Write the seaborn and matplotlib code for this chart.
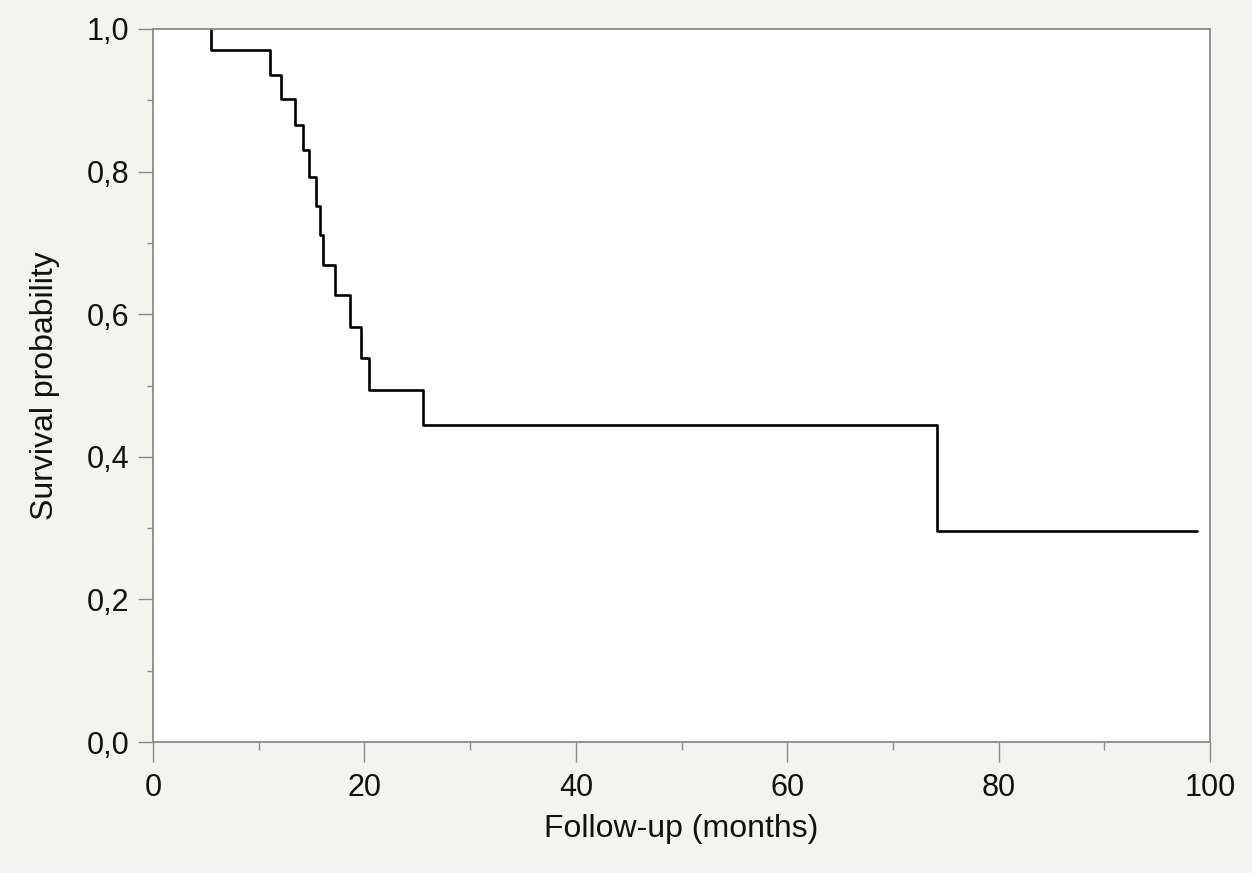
import matplotlib
matplotlib.use("Agg")
import matplotlib.pyplot as plt
import seaborn as sns
import pandas as pd
from matplotlib.ticker import MultipleLocator, FuncFormatter

# Kaplan-Meier step data
# event times (months) and survival probability just after each event
months = [5.5, 11.1, 12.1, 13.4, 14.2, 14.8, 15.4, 15.8, 16.1, 17.2, 18.6, 19.7, 20.4, 25.5, 74.2]
survival = [0.970, 0.936, 0.902, 0.866, 0.830, 0.793, 0.752, 0.711, 0.669, 0.627, 0.582, 0.538, 0.494, 0.445, 0.296]
start_value = 1.0
last_follow_up = 98.8

x_ticks = [0, 20, 40, 60, 80, 100]
y_ticks = [0.0, 0.2, 0.4, 0.6, 0.8, 1.0]

sns.set_theme(style="white")
plt.rcParams['font.family'] = ['Liberation Sans', 'DejaVu Sans']

fig = plt.figure(figsize=(12.52, 8.73), dpi=100, facecolor="#f3f4ef")
ax = fig.add_axes([0.1222, 0.150, 0.8443, 0.8168])
ax.set_facecolor("white")

# steps-post: at each event time the curve drops to the new value
post = pd.DataFrame({
    "months": [months[0]] + months + [last_follow_up],
    "surv": [start_value] + survival + [survival[-1]],
})
sns.lineplot(data=post, x="months", y="surv", drawstyle="steps-post",
             estimator=None, sort=False, color="black", linewidth=1.9, ax=ax)

ax.set_xlim(0, 100)
ax.set_ylim(0, 1.0)
ax.set_xticks(x_ticks)
ax.set_yticks(y_ticks)
ax.xaxis.set_minor_locator(MultipleLocator(10))
ax.yaxis.set_minor_locator(MultipleLocator(0.1))
ax.yaxis.set_major_formatter(FuncFormatter(lambda v, p: f"{v:.1f}".replace(".", ",")))
ax.xaxis.set_major_formatter(FuncFormatter(lambda v, p: f"{int(v)}"))

for s in ax.spines.values():
    s.set_color("#8a8a8a")
    s.set_linewidth(1.3)
common = dict(direction="out", width=1.0, color="#8a8a8a", labelcolor="#111111")
ax.tick_params(axis="x", which="major", length=14.4, pad=8, labelsize=22, bottom=True, **common)
ax.tick_params(axis="y", which="major", length=11, pad=6, labelsize=22, left=True, **common)
ax.tick_params(axis="x", which="minor", length=6, bottom=True, **common)
ax.tick_params(axis="y", which="minor", length=4.5, left=True, **common)

ax.set_xlabel("Follow-up (months)", fontsize=23, color="#111111", labelpad=8)
ax.set_ylabel("Survival probability", fontsize=23, color="#111111", labelpad=19)

fig.savefig("out.png", dpi=100, facecolor=fig.get_facecolor())
